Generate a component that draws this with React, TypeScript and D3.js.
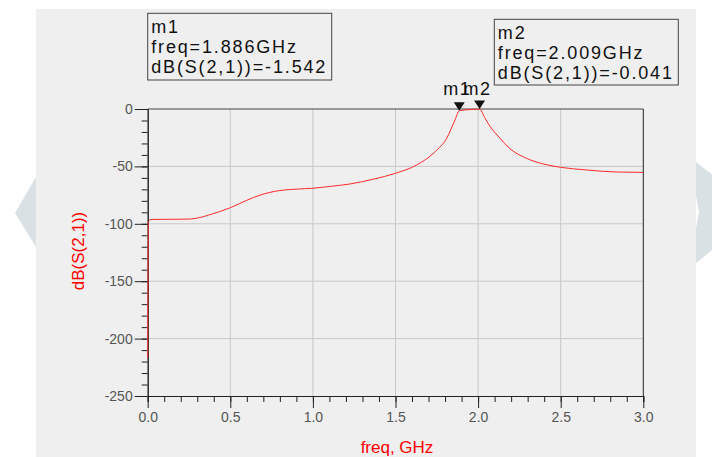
import React, { useRef, useEffect } from 'react';
import * as d3 from 'd3';

// S21 sweep
const freqGHz = [0, 0.004, 0.02, 0.1, 0.2, 0.26, 0.3, 0.4, 0.5, 0.6, 0.68, 0.8, 0.9, 1.0, 1.1, 1.225, 1.364, 1.5, 1.628, 1.74, 1.81, 1.86, 1.886, 1.92, 1.95, 1.98, 2.009, 2.04, 2.06, 2.133, 2.19, 2.294, 2.395, 2.5, 2.657, 2.84, 3.0];
const s21dB = [-217, -98, -96.2, -96.1, -96, -95.8, -95, -91, -86, -79.5, -75, -71, -69.8, -69, -67.5, -65.3, -61.2, -56, -48.8, -37.2, -25.5, -9.6, -1.542, -0.8, -0.5, -0.3, -0.041, -7.5, -12.5, -25.5, -34.2, -43, -47.9, -50.8, -53.1, -54.9, -55.2];

const xMajor = [0, 0.5, 1.0, 1.5, 2.0, 2.5, 3.0];
const yMajor = [0, -50, -100, -150, -200, -250];

const markerNames = ['m1', 'm2'];
const markerFreq = [1.886, 2.009];
const markerValue = [-1.542, -0.041];

const FONT = '"Liberation Sans", Arial, sans-serif';

export default function App() {
  const svgRef = useRef<SVGSVGElement>(null);

  useEffect(() => {
    if (!svgRef.current) return;
    const svg = d3.select(svgRef.current);
    svg.selectAll('*').remove();

    const x = d3.scaleLinear().domain([0, 3]).range([147.7, 643.3]);
    const y = d3.scaleLinear().domain([-250, 0]).range([396, 109]);

    // background panel + decorative chevrons
    svg.append('polygon')
      .attr('points', '36,177 15,213 36,247')
      .attr('fill', '#dae1e5');
    svg.append('polygon')
      .attr('points', '696,162 760,212 696,263 696,228 699,212 696,196')
      .attr('fill', '#dae1e5');
    svg.append('rect')
      .attr('x', 36).attr('y', 9)
      .attr('width', 660).attr('height', 448)
      .attr('fill', '#efefef');

    const g = svg.append('g');

    // grid
    g.selectAll('.vgrid')
      .data(xMajor.slice(1, -1))
      .enter()
      .append('line')
      .attr('x1', d => x(d)).attr('x2', d => x(d))
      .attr('y1', y(0)).attr('y2', y(-250))
      .attr('stroke', '#c8c8c8');
    g.selectAll('.hgrid')
      .data(yMajor.slice(1, -1))
      .enter()
      .append('line')
      .attr('x1', x(0)).attr('x2', x(3))
      .attr('y1', d => y(d)).attr('y2', d => y(d))
      .attr('stroke', '#c8c8c8');

    // frame top/right
    g.append('line')
      .attr('x1', x(0)).attr('x2', x(3))
      .attr('y1', y(0)).attr('y2', y(0))
      .attr('stroke', '#444');
    g.append('line')
      .attr('x1', x(3)).attr('x2', x(3))
      .attr('y1', y(0)).attr('y2', y(-250))
      .attr('stroke', '#222');

    const styleAxis = (sel: d3.Selection<SVGGElement, unknown, null, undefined>) => {
      sel.selectAll('path').attr('stroke', '#222');
      sel.selectAll('line').attr('stroke', '#222');
      sel.selectAll('text')
        .attr('fill', '#555')
        .style('font-family', FONT)
        .style('font-size', '14px');
    };

    // minor ticks
    const yMinor = d3.range(-250, 1, 10);
    const xMinor = d3.range(0, 3.001, 0.1);
    g.append('g')
      .attr('transform', `translate(${x(0)},0)`)
      .call(d3.axisLeft(y).tickValues(yMinor).tickSize(6).tickFormat(() => ''))
      .call(styleAxis);
    g.append('g')
      .attr('transform', `translate(0,${y(-250)})`)
      .call(d3.axisBottom(x).tickValues(xMinor).tickSize(6).tickFormat(() => ''))
      .call(styleAxis);

    // major ticks + labels
    g.append('g')
      .attr('transform', `translate(${x(0)},0)`)
      .call(d3.axisLeft(y).tickValues(yMajor).tickSize(13).tickSizeOuter(0).tickPadding(2).tickFormat(d => String(d)))
      .call(styleAxis);
    g.append('g')
      .attr('transform', `translate(0,${y(-250)})`)
      .call(d3.axisBottom(x).tickValues(xMajor).tickSize(12).tickSizeOuter(0).tickPadding(4).tickFormat(d => (+d).toFixed(1)))
      .call(styleAxis);

    // trace
    const pts = freqGHz.map((f, i) => [f, s21dB[i]] as [number, number]);
    const line = d3.line<[number, number]>()
      .x(d => x(d[0]))
      .y(d => y(d[1]))
      .curve(d3.curveMonotoneX);
    g.append('path')
      .datum(pts)
      .attr('fill', 'none')
      .attr('stroke', '#ff2a2a')
      .attr('stroke-width', 1)
      .attr('d', line);

    // axis labels
    svg.append('text')
      .attr('x', 397).attr('y', 453)
      .attr('text-anchor', 'middle')
      .attr('fill', '#ff0000')
      .style('font-family', FONT)
      .style('font-size', '17px')
      .text('freq, GHz');
    svg.append('text')
      .attr('transform', 'translate(84,251) rotate(-90)')
      .attr('text-anchor', 'middle')
      .attr('fill', '#ff0000')
      .style('font-family', FONT)
      .style('font-size', '17px')
      .text('dB(S(2,1))');

    // markers
    markerNames.forEach((name, i) => {
      const mx = x(markerFreq[i]);
      const my = y(markerValue[i]);
      svg.append('path')
        .attr('d', `M${mx - 5.5},${my - 8.5}L${mx + 5.5},${my - 8.5}L${mx},${my}Z`)
        .attr('fill', '#111');
      svg.append('text')
        .attr('x', mx - 16).attr('y', 94.5)
        .attr('fill', '#111')
        .style('font-family', FONT)
        .style('font-size', '18px')
        .style('letter-spacing', '1.5px')
        .text(name);
    });

    // marker readout boxes
    const boxes = [
      { x: 147.7, y: 13.3, w: 184, h: 66.7 },
      { x: 494.3, y: 19.3, w: 184, h: 65.7 }
    ];
    boxes.forEach((b, i) => {
      const bg = svg.append('g');
      bg.append('rect')
        .attr('x', b.x).attr('y', b.y)
        .attr('width', b.w).attr('height', b.h)
        .attr('fill', 'none')
        .attr('stroke', '#444');
      const lines = [
        markerNames[i],
        `freq=${markerFreq[i].toFixed(3)}GHz`,
        `dB(S(2,1))=${markerValue[i].toFixed(3)}`
      ];
      lines.forEach((t, j) => {
        bg.append('text')
          .attr('x', b.x + 3.5)
          .attr('y', b.y + 20 + j * 20)
          .attr('fill', '#111')
          .style('font-family', FONT)
          .style('font-size', '18px')
          .style('letter-spacing', '1.85px')
          .text(t);
      });
    });
  }, []);

  return (
    <svg
      ref={svgRef}
      width={712}
      height={457}
      style={{ position: 'absolute', left: 0, top: 0, background: '#fff' }}
    />
  );
}
